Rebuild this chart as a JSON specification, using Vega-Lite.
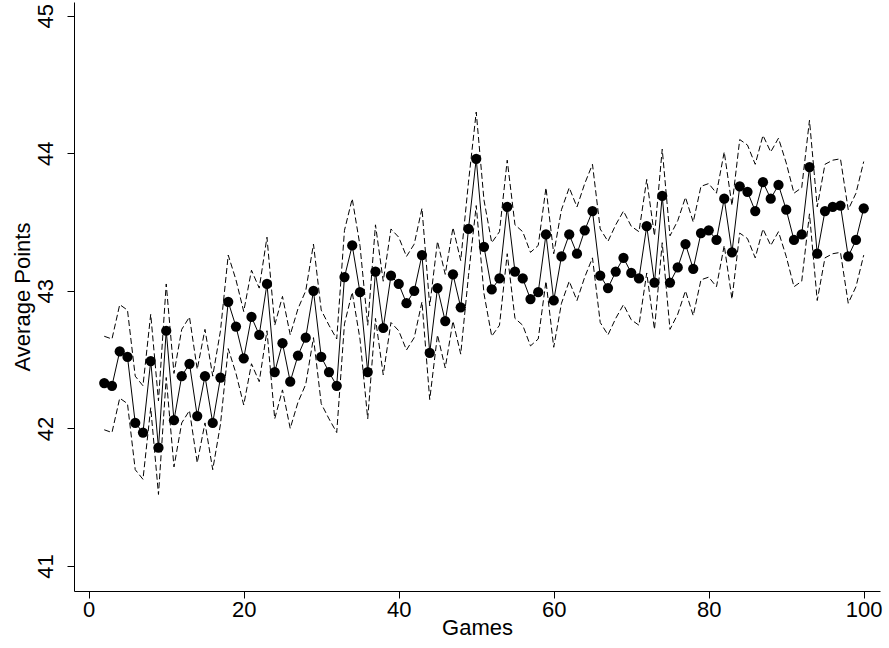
{
  "$schema": "https://vega.github.io/schema/vega-lite/v6.json",
  "autosize": {"type": "none"},
  "padding": {"left": 74, "top": 2, "right": 9, "bottom": 57},
  "width": 806,
  "height": 589,
  "background": "white",
  "config": {
    "view": {"stroke": null},
    "font": "Liberation Sans",
    "axis": {
      "grid": false,
      "domainColor": "black",
      "tickColor": "black",
      "labelColor": "black",
      "titleColor": "black",
      "labelFont": "Liberation Sans",
      "titleFont": "Liberation Sans",
      "labelFontSize": 22,
      "titleFontSize": 22,
      "titleFontWeight": "normal",
      "tickSize": 7,
      "domainWidth": 1,
      "tickWidth": 1,
      "format": "d"
    }
  },
  "data": {
    "values": [
      {"g": 2, "mean": 42.33, "lo": 41.99, "hi": 42.67},
      {"g": 3, "mean": 42.31, "lo": 41.97, "hi": 42.65},
      {"g": 4, "mean": 42.56, "lo": 42.22, "hi": 42.90},
      {"g": 5, "mean": 42.52, "lo": 42.18, "hi": 42.86},
      {"g": 6, "mean": 42.04, "lo": 41.70, "hi": 42.38},
      {"g": 7, "mean": 41.97, "lo": 41.63, "hi": 42.31},
      {"g": 8, "mean": 42.49, "lo": 42.15, "hi": 42.83},
      {"g": 9, "mean": 41.86, "lo": 41.52, "hi": 42.20},
      {"g": 10, "mean": 42.71, "lo": 42.37, "hi": 43.05},
      {"g": 11, "mean": 42.06, "lo": 41.72, "hi": 42.40},
      {"g": 12, "mean": 42.38, "lo": 42.04, "hi": 42.72},
      {"g": 13, "mean": 42.47, "lo": 42.13, "hi": 42.81},
      {"g": 14, "mean": 42.09, "lo": 41.75, "hi": 42.43},
      {"g": 15, "mean": 42.38, "lo": 42.04, "hi": 42.72},
      {"g": 16, "mean": 42.04, "lo": 41.70, "hi": 42.38},
      {"g": 17, "mean": 42.37, "lo": 42.03, "hi": 42.71},
      {"g": 18, "mean": 42.92, "lo": 42.58, "hi": 43.26},
      {"g": 19, "mean": 42.74, "lo": 42.40, "hi": 43.08},
      {"g": 20, "mean": 42.51, "lo": 42.17, "hi": 42.85},
      {"g": 21, "mean": 42.81, "lo": 42.47, "hi": 43.15},
      {"g": 22, "mean": 42.68, "lo": 42.34, "hi": 43.02},
      {"g": 23, "mean": 43.05, "lo": 42.71, "hi": 43.39},
      {"g": 24, "mean": 42.41, "lo": 42.07, "hi": 42.75},
      {"g": 25, "mean": 42.62, "lo": 42.28, "hi": 42.96},
      {"g": 26, "mean": 42.34, "lo": 42.00, "hi": 42.68},
      {"g": 27, "mean": 42.53, "lo": 42.19, "hi": 42.87},
      {"g": 28, "mean": 42.66, "lo": 42.32, "hi": 43.00},
      {"g": 29, "mean": 43.00, "lo": 42.66, "hi": 43.34},
      {"g": 30, "mean": 42.52, "lo": 42.18, "hi": 42.86},
      {"g": 31, "mean": 42.41, "lo": 42.07, "hi": 42.75},
      {"g": 32, "mean": 42.31, "lo": 41.97, "hi": 42.65},
      {"g": 33, "mean": 43.10, "lo": 42.76, "hi": 43.44},
      {"g": 34, "mean": 43.33, "lo": 42.99, "hi": 43.67},
      {"g": 35, "mean": 42.99, "lo": 42.65, "hi": 43.33},
      {"g": 36, "mean": 42.41, "lo": 42.07, "hi": 42.75},
      {"g": 37, "mean": 43.14, "lo": 42.80, "hi": 43.48},
      {"g": 38, "mean": 42.73, "lo": 42.39, "hi": 43.07},
      {"g": 39, "mean": 43.11, "lo": 42.77, "hi": 43.45},
      {"g": 40, "mean": 43.05, "lo": 42.71, "hi": 43.39},
      {"g": 41, "mean": 42.91, "lo": 42.57, "hi": 43.25},
      {"g": 42, "mean": 43.00, "lo": 42.66, "hi": 43.34},
      {"g": 43, "mean": 43.26, "lo": 42.92, "hi": 43.60},
      {"g": 44, "mean": 42.55, "lo": 42.21, "hi": 42.89},
      {"g": 45, "mean": 43.02, "lo": 42.68, "hi": 43.36},
      {"g": 46, "mean": 42.78, "lo": 42.44, "hi": 43.12},
      {"g": 47, "mean": 43.12, "lo": 42.78, "hi": 43.46},
      {"g": 48, "mean": 42.88, "lo": 42.54, "hi": 43.22},
      {"g": 49, "mean": 43.45, "lo": 43.11, "hi": 43.79},
      {"g": 50, "mean": 43.96, "lo": 43.62, "hi": 44.30},
      {"g": 51, "mean": 43.32, "lo": 42.98, "hi": 43.66},
      {"g": 52, "mean": 43.01, "lo": 42.67, "hi": 43.35},
      {"g": 53, "mean": 43.09, "lo": 42.75, "hi": 43.43},
      {"g": 54, "mean": 43.61, "lo": 43.27, "hi": 43.95},
      {"g": 55, "mean": 43.14, "lo": 42.80, "hi": 43.48},
      {"g": 56, "mean": 43.09, "lo": 42.75, "hi": 43.43},
      {"g": 57, "mean": 42.94, "lo": 42.60, "hi": 43.28},
      {"g": 58, "mean": 42.99, "lo": 42.65, "hi": 43.33},
      {"g": 59, "mean": 43.41, "lo": 43.07, "hi": 43.75},
      {"g": 60, "mean": 42.93, "lo": 42.59, "hi": 43.27},
      {"g": 61, "mean": 43.25, "lo": 42.91, "hi": 43.59},
      {"g": 62, "mean": 43.41, "lo": 43.07, "hi": 43.75},
      {"g": 63, "mean": 43.27, "lo": 42.93, "hi": 43.61},
      {"g": 64, "mean": 43.44, "lo": 43.10, "hi": 43.78},
      {"g": 65, "mean": 43.58, "lo": 43.24, "hi": 43.92},
      {"g": 66, "mean": 43.11, "lo": 42.77, "hi": 43.45},
      {"g": 67, "mean": 43.02, "lo": 42.68, "hi": 43.36},
      {"g": 68, "mean": 43.14, "lo": 42.80, "hi": 43.48},
      {"g": 69, "mean": 43.24, "lo": 42.90, "hi": 43.58},
      {"g": 70, "mean": 43.13, "lo": 42.79, "hi": 43.47},
      {"g": 71, "mean": 43.09, "lo": 42.75, "hi": 43.43},
      {"g": 72, "mean": 43.47, "lo": 43.13, "hi": 43.81},
      {"g": 73, "mean": 43.06, "lo": 42.72, "hi": 43.40},
      {"g": 74, "mean": 43.69, "lo": 43.35, "hi": 44.03},
      {"g": 75, "mean": 43.06, "lo": 42.72, "hi": 43.40},
      {"g": 76, "mean": 43.17, "lo": 42.83, "hi": 43.51},
      {"g": 77, "mean": 43.34, "lo": 43.00, "hi": 43.68},
      {"g": 78, "mean": 43.16, "lo": 42.82, "hi": 43.50},
      {"g": 79, "mean": 43.42, "lo": 43.08, "hi": 43.76},
      {"g": 80, "mean": 43.44, "lo": 43.10, "hi": 43.78},
      {"g": 81, "mean": 43.37, "lo": 43.03, "hi": 43.71},
      {"g": 82, "mean": 43.67, "lo": 43.33, "hi": 44.01},
      {"g": 83, "mean": 43.28, "lo": 42.94, "hi": 43.62},
      {"g": 84, "mean": 43.76, "lo": 43.42, "hi": 44.10},
      {"g": 85, "mean": 43.72, "lo": 43.38, "hi": 44.06},
      {"g": 86, "mean": 43.58, "lo": 43.24, "hi": 43.92},
      {"g": 87, "mean": 43.79, "lo": 43.45, "hi": 44.13},
      {"g": 88, "mean": 43.67, "lo": 43.33, "hi": 44.01},
      {"g": 89, "mean": 43.77, "lo": 43.43, "hi": 44.11},
      {"g": 90, "mean": 43.59, "lo": 43.25, "hi": 43.93},
      {"g": 91, "mean": 43.37, "lo": 43.03, "hi": 43.71},
      {"g": 92, "mean": 43.41, "lo": 43.07, "hi": 43.75},
      {"g": 93, "mean": 43.90, "lo": 43.56, "hi": 44.24},
      {"g": 94, "mean": 43.27, "lo": 42.93, "hi": 43.61},
      {"g": 95, "mean": 43.58, "lo": 43.24, "hi": 43.92},
      {"g": 96, "mean": 43.61, "lo": 43.27, "hi": 43.95},
      {"g": 97, "mean": 43.62, "lo": 43.28, "hi": 43.96},
      {"g": 98, "mean": 43.25, "lo": 42.91, "hi": 43.59},
      {"g": 99, "mean": 43.37, "lo": 43.03, "hi": 43.71},
      {"g": 100, "mean": 43.60, "lo": 43.26, "hi": 43.94}
    ]
  },
  "encoding": {
    "x": {
      "field": "g",
      "type": "quantitative",
      "scale": {"domain": [-1.9, 102.1], "nice": false, "zero": false},
      "axis": {"values": [0, 20, 40, 60, 80, 100], "title": "Games", "labelPadding": 1, "titleY": 26, "titleBaseline": "top"}
    }
  },
  "layer": [
    {
      "mark": {"type": "line", "color": "black", "strokeWidth": 1, "strokeDash": [6, 3]},
      "encoding": {
        "y": {
          "field": "hi",
          "type": "quantitative",
          "scale": {"domain": [40.818, 45.1], "nice": false, "zero": false},
          "axis": {"values": [41, 42, 43, 44, 45], "title": "Average Points", "labelAngle": -90, "labelAlign": "center", "labelBaseline": "bottom", "labelPadding": 10, "titleX": -52, "titleBaseline": "middle"}
        }
      }
    },
    {
      "mark": {"type": "line", "color": "black", "strokeWidth": 1, "strokeDash": [6, 3]},
      "encoding": {"y": {"field": "lo", "type": "quantitative"}}
    },
    {
      "mark": {"type": "line", "color": "black", "strokeWidth": 1},
      "encoding": {"y": {"field": "mean", "type": "quantitative"}}
    },
    {
      "mark": {"type": "point", "filled": true, "color": "black", "opacity": 1, "size": 105},
      "encoding": {"y": {"field": "mean", "type": "quantitative"}}
    }
  ]
}
